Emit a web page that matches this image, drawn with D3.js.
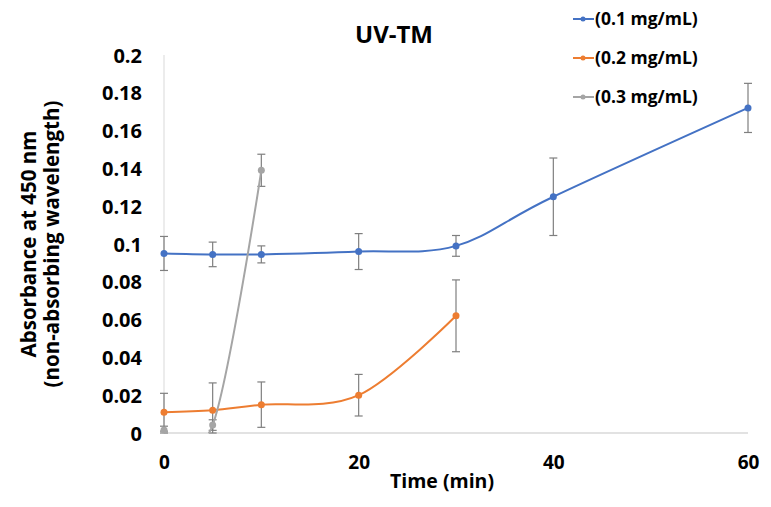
<!DOCTYPE html>
<html>
<head>
<meta charset="utf-8">
<script src="https://cdn.jsdelivr.net/npm/d3@7"></script>
<style>
  body { margin: 0; background: white; }
  text { font-family: 'Open Sans', 'Liberation Sans', sans-serif; font-weight: bold; fill: #000; }
</style>
</head>
<body>
<script>
const times = [0, 5, 10, 20, 30, 40, 60]
const seriesNames = ['(0.1 mg/mL)', '(0.2 mg/mL)', '(0.3 mg/mL)']
const blueVals = [0.095, 0.0945, 0.0945, 0.096, 0.099, 0.125, 0.172]
const blueErr = [0.009, 0.0065, 0.0045, 0.0095, 0.0055, 0.0205, 0.013]
const orangeVals = [0.011, 0.012, 0.015, 0.020, 0.062]
const orangeErr = [0.010, 0.0145, 0.012, 0.011, 0.019]
const grayVals = [0.0016, 0.0042, 0.139]
const grayErr = [0.002, 0.0028, 0.0085]
const xTicks = [0, 20, 40, 60]
const yTicks = [0, 0.02, 0.04, 0.06, 0.08, 0.1, 0.12, 0.14, 0.16, 0.18, 0.2]
const colors = ['#4472C4', '#ED7D31', '#A5A5A5']

const width = 771, height = 507
const m = { left: 164, right: 23, top: 55, bottom: 74 }

const series = [blueVals, orangeVals, grayVals].map((vals, i) => ({
  name: seriesNames[i],
  color: colors[i],
  pts: vals.map((v, j) => ({ t: times[j], v: v, e: [blueErr, orangeErr, grayErr][i][j] }))
}))

const svg = d3.select('body').append('svg')
  .attr('width', width)
  .attr('height', height)

const x = d3.scaleLinear().domain([0, 60]).range([m.left, width - m.right])
const y = d3.scaleLinear().domain([0, 0.2]).range([height - m.bottom, m.top])

// axes lines
svg.append('line')
  .attr('x1', x(0)).attr('x2', x(0))
  .attr('y1', y(0.2)).attr('y2', y(0))
  .attr('stroke', '#d9d9d9').attr('stroke-width', 1)
svg.append('line')
  .attr('x1', x(0)).attr('x2', x(60))
  .attr('y1', y(0)).attr('y2', y(0))
  .attr('stroke', '#d9d9d9').attr('stroke-width', 1.5)

// tick labels
const yAxis = d3.axisLeft(y).tickValues(yTicks).tickSize(0).tickPadding(0)
  .tickFormat(d => d3.format('~g')(d))
svg.append('g')
  .attr('transform', 'translate(' + (m.left - 22) + ',0)')
  .call(yAxis)
  .call(g => g.select('.domain').remove())
  .selectAll('text').style('font-size', '20px').attr('dy', '0.35em')

const xAxis = d3.axisBottom(x).tickValues(xTicks).tickSize(0).tickPadding(0)
svg.append('g')
  .attr('transform', 'translate(0,' + (y(0) + 22) + ')')
  .call(xAxis)
  .call(g => g.select('.domain').remove())
  .selectAll('text').style('font-size', '19px').attr('dy', '0.71em')

// titles
svg.append('text')
  .attr('x', 394).attr('y', 43)
  .attr('text-anchor', 'middle')
  .style('font-size', '24px')
  .text('UV-TM')

svg.append('text')
  .attr('x', 442).attr('y', 488)
  .attr('text-anchor', 'middle')
  .style('font-size', '19.5px')
  .text('Time (min)')

const yt = svg.append('text')
  .attr('transform', 'translate(36,' + 244 + ')rotate(-90)')
  .attr('text-anchor', 'middle')
  .style('font-size', '20.5px')
yt.append('tspan').attr('x', 0).attr('dy', 0).text('Absorbance at 450 nm')
yt.append('tspan').attr('x', 0).attr('dy', 23).text('(non-absorbing wavelength)')

// lines
const line = d3.line()
  .x(d => x(d.t))
  .y(d => y(d.v))
  .curve(d3.curveCardinal.tension(0))

series.forEach(s => {
  // error bars
  const eb = svg.append('g')
  s.pts.forEach(p => {
    const cx = x(p.t)
    const top = y(p.v + p.e), bot = y(Math.max(0, p.v - p.e))
    eb.append('line').attr('x1', cx).attr('x2', cx).attr('y1', top).attr('y2', bot)
      .attr('stroke', '#7f7f7f').attr('stroke-width', 1.2)
    eb.append('line').attr('x1', cx - 4).attr('x2', cx + 4).attr('y1', top).attr('y2', top)
      .attr('stroke', '#7f7f7f').attr('stroke-width', 1.2)
    eb.append('line').attr('x1', cx - 4).attr('x2', cx + 4).attr('y1', bot).attr('y2', bot)
      .attr('stroke', '#7f7f7f').attr('stroke-width', 1.2)
  })
})

svg.append('defs').append('clipPath').attr('id', 'lineclip')
  .append('rect')
  .attr('x', m.left - 10).attr('y', m.top - 10)
  .attr('width', width - m.left - m.right + 20)
  .attr('height', y(0) - m.top + 10)

series.forEach(s => {
  svg.append('path')
    .datum(s.pts)
    .attr('clip-path', 'url(#lineclip)')
    .attr('fill', 'none')
    .attr('stroke', s.color)
    .attr('stroke-width', 2)
    .attr('d', line)
  svg.append('g').selectAll('circle')
    .data(s.pts)
    .enter()
    .append('circle')
    .attr('cx', d => x(d.t))
    .attr('cy', d => y(d.v))
    .attr('r', 3.5)
    .attr('fill', s.color)
})

// legend
const legend = svg.append('g')
series.forEach((s, i) => {
  const ly = 19 + i * 39
  legend.append('line')
    .attr('x1', 573).attr('x2', 594).attr('y1', ly).attr('y2', ly)
    .attr('stroke', s.color).attr('stroke-width', 2)
  legend.append('circle')
    .attr('cx', 583).attr('cy', ly).attr('r', 2.5).attr('fill', s.color)
  legend.append('text')
    .attr('x', 595).attr('y', ly)
    .attr('dy', '0.36em')
    .style('font-size', '17.5px')
    .text(s.name)
})
</script>
</body>
</html>
